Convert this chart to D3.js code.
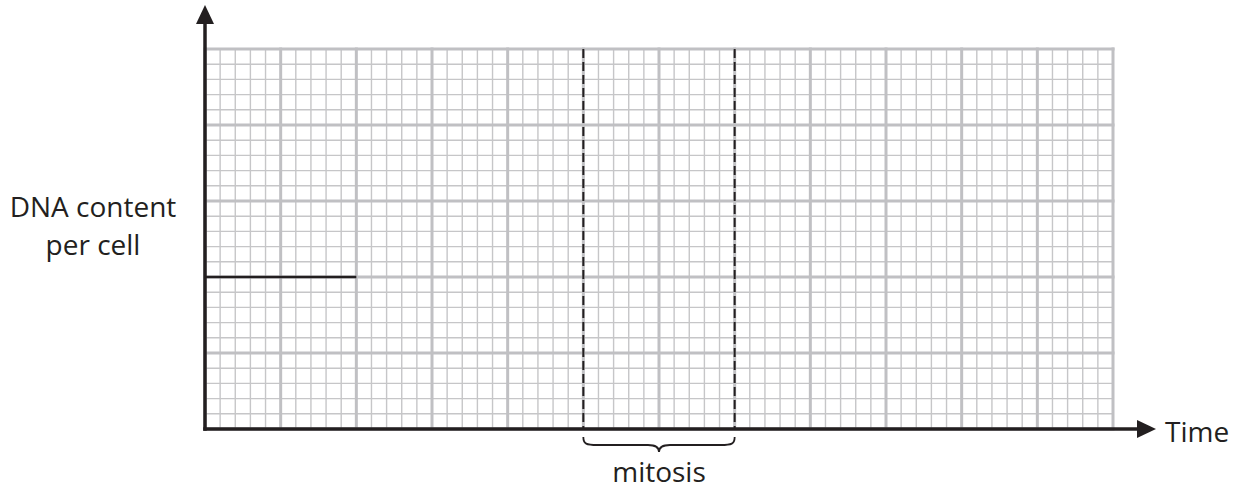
<!DOCTYPE html>
<html>
<head>
<meta charset="utf-8">
<script src="https://cdn.jsdelivr.net/npm/d3@7"></script>
<style>
  body { margin: 0; background: #fff; }
  text { font-family: "Open Sans", sans-serif; fill: #231f20; }
</style>
</head>
<body>
<div id="chart"></div>
<script>
// grid size in major cells, each split into minor cells
var majorCols = 12;
var majorRows = 5;
var minorPerMajor = 5;

// DNA content line already drawn (time, level in major cells)
var dnaLine = [[0, 2], [2, 2]];

// mitosis span (time in major cells)
var mitosis = [5, 7];

var labels = { y: ["DNA content", "per cell"], x: "Time", span: "mitosis" };

var W = 1239, H = 493;
var ink = "#231f20", gridCol = "#c6c6c8";

var svg = d3.select("#chart").append("svg").attr("width", W).attr("height", H);

var x = d3.scaleLinear().domain([0, majorCols]).range([205, 1113]);
var y = d3.scaleLinear().domain([0, majorRows]).range([429, 49]);

var g = svg.append("g");

// minor grid
var minorX = d3.range(0, majorCols * minorPerMajor + 1).map(function(d){ return d / minorPerMajor; });
var minorY = d3.range(0, majorRows * minorPerMajor + 1).map(function(d){ return d / minorPerMajor; });

g.selectAll(".mvx").data(minorX).enter().append("line")
  .attr("x1", function(d){ return x(d); }).attr("x2", function(d){ return x(d); })
  .attr("y1", y(0)).attr("y2", y(majorRows))
  .attr("stroke", gridCol).attr("stroke-width", 1.4);
g.selectAll(".mhy").data(minorY).enter().append("line")
  .attr("y1", function(d){ return y(d); }).attr("y2", function(d){ return y(d); })
  .attr("x1", x(0)).attr("x2", x(majorCols))
  .attr("stroke", gridCol).attr("stroke-width", 1.4);

// major grid
g.selectAll(".Mvx").data(d3.range(0, majorCols + 1)).enter().append("line")
  .attr("x1", function(d){ return x(d); }).attr("x2", function(d){ return x(d); })
  .attr("y1", y(0)).attr("y2", y(majorRows) - 1.5)
  .attr("stroke", "#c0c0c3").attr("stroke-width", 3);
g.selectAll(".Mhy").data(d3.range(0, majorRows + 1)).enter().append("line")
  .attr("y1", function(d){ return y(d); }).attr("y2", function(d){ return y(d); })
  .attr("x1", x(0)).attr("x2", x(majorCols) + 1.5)
  .attr("stroke", "#c0c0c3").attr("stroke-width", 3);

// mitosis dashed bounds
g.selectAll(".dash").data(mitosis).enter().append("line")
  .attr("x1", function(d){ return x(d); }).attr("x2", function(d){ return x(d); })
  .attr("y1", y(majorRows)).attr("y2", y(0))
  .attr("stroke", ink).attr("stroke-width", 2).attr("stroke-dasharray", "9,4");

// DNA line
g.append("path")
  .attr("d", d3.line().x(function(d){ return x(d[0]); }).y(function(d){ return y(d[1]); })(dnaLine))
  .attr("fill", "none").attr("stroke", ink).attr("stroke-width", 2.5);

// axes with arrowheads
var ax = x(0), ay = y(0);
g.append("line").attr("x1", ax).attr("x2", ax).attr("y1", ay + 1.75).attr("y2", 22)
  .attr("stroke", ink).attr("stroke-width", 3.5);
g.append("path").attr("d", "M" + ax + ",5 L" + (ax - 9) + ",24 L" + (ax + 9) + ",24 Z").attr("fill", ink);
g.append("line").attr("x1", ax - 1.75).attr("x2", 1140).attr("y1", ay).attr("y2", ay)
  .attr("stroke", ink).attr("stroke-width", 3.5);
g.append("path").attr("d", "M1156," + ay + " L1137," + (ay - 9) + " L1137," + (ay + 9) + " Z").attr("fill", ink);

// brace under mitosis
var b0 = x(mitosis[0]), b1 = x(mitosis[1]), bm = (b0 + b1) / 2, bt = 437;
g.append("path")
  .attr("d", "M" + b0 + "," + bt +
    " C" + b0 + "," + (bt + 7) + " " + (b0 + 3) + "," + (bt + 8) + " " + (b0 + 14) + "," + (bt + 8) +
    " L" + (bm - 11) + "," + (bt + 8) +
    " C" + (bm - 3) + "," + (bt + 8) + " " + bm + "," + (bt + 11) + " " + bm + "," + (bt + 15) +
    " C" + bm + "," + (bt + 11) + " " + (bm + 3) + "," + (bt + 8) + " " + (bm + 11) + "," + (bt + 8) +
    " L" + (b1 - 14) + "," + (bt + 8) +
    " C" + (b1 - 3) + "," + (bt + 8) + " " + b1 + "," + (bt + 7) + " " + b1 + "," + bt)
  .attr("fill", "none").attr("stroke", ink).attr("stroke-width", 1.8);

// labels
svg.append("text").attr("x", bm).attr("y", 482).attr("text-anchor", "middle")
  .attr("font-size", 28).text(labels.span);
svg.append("text").attr("x", 1165).attr("y", 442).attr("font-size", 28).text(labels.x);
svg.selectAll(".yl").data(labels.y).enter().append("text")
  .attr("x", 93).attr("y", function(d, i){ return 216.5 + i * 38.5; })
  .attr("text-anchor", "middle").attr("font-size", 28).text(function(d){ return d; });
</script>
</body>
</html>
